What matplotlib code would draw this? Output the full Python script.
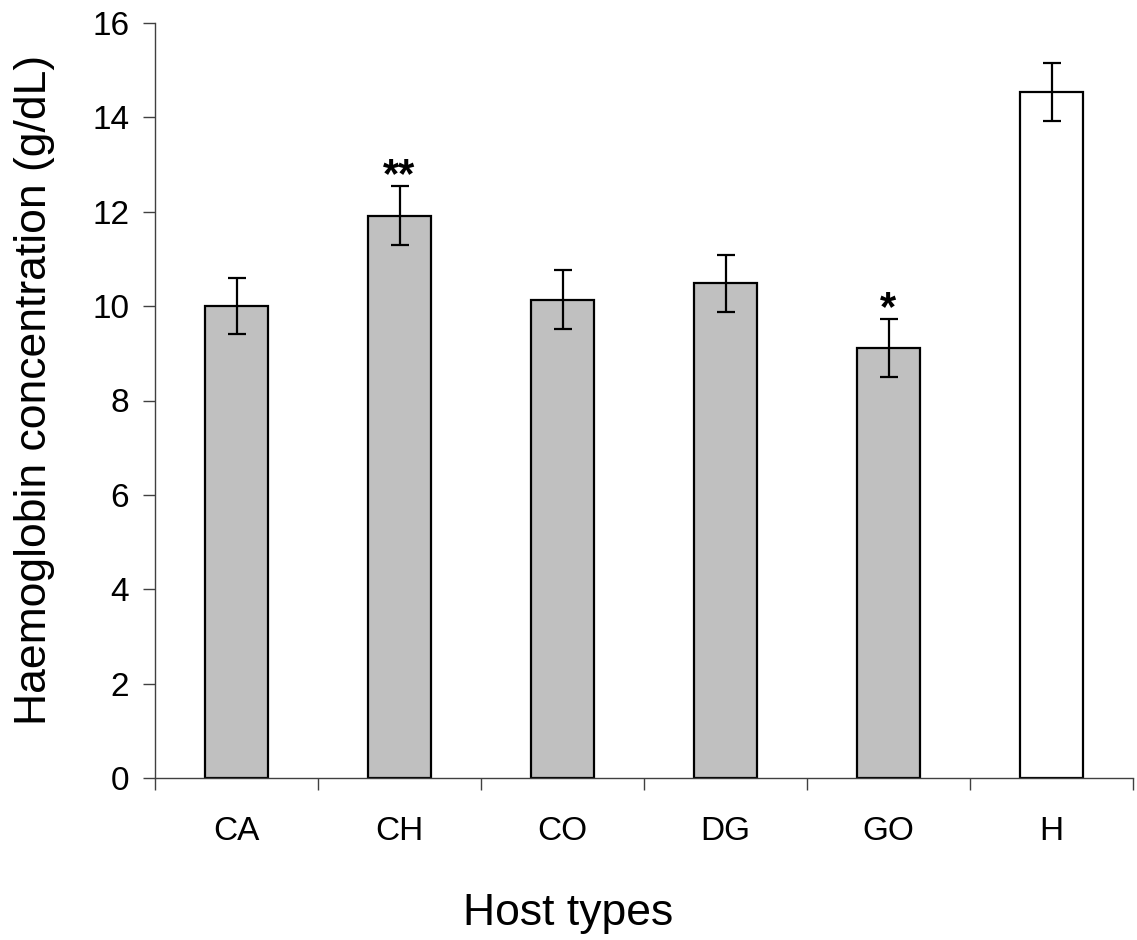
import numpy as np
import matplotlib
matplotlib.use("Agg")
import matplotlib.pyplot as plt

plt.rcParams["font.family"] = ["Liberation Sans", "DejaVu Sans"]

hosts = ["CA", "CH", "CO", "DG", "GO", "H"]
hb_mean = [10.0, 11.92, 10.14, 10.48, 9.11, 14.54]
hb_err = [0.6, 0.62, 0.62, 0.6, 0.61, 0.61]
bar_colors = ["#c0c0c0", "#c0c0c0", "#c0c0c0", "#c0c0c0", "#c0c0c0", "#ffffff"]
signif = ["", "**", "", "", "*", ""]

fig = plt.figure(figsize=(11.37, 9.40), dpi=100)
ax = fig.add_axes([155 / 1137, 1 - 778 / 940, (1133 - 155) / 1137, (778 - 23) / 940])

x = np.arange(len(hosts)) + 0.5
ax.bar(x, hb_mean, width=0.39, color=bar_colors, edgecolor="black", linewidth=1.6, zorder=2)
ax.errorbar(x, hb_mean, yerr=hb_err, fmt="none", ecolor="black", elinewidth=1.6,
            capsize=6.5, capthick=1.6, zorder=3)
for xi, m, e, s in zip(x, hb_mean, hb_err, signif):
    if s:
        ax.annotate(s, (xi, m + e), xytext=(0, -7), textcoords="offset points",
                    ha="center", va="bottom", fontsize=30, fontweight="bold")

ax.set_xlim(0, len(hosts))
ax.set_ylim(0, 16)
ax.set_yticks(np.arange(0, 17, 2))
ax.set_xticks(np.arange(0, len(hosts) + 1))
ax.set_xticklabels([])
ax.set_xticks(x, minor=True)
ax.set_xticklabels(hosts, minor=True)
ax.tick_params(axis="x", which="minor", length=0, pad=27, labelsize=24)
ax.tick_params(axis="x", which="major", length=8.6, width=1, color="#404040")
ax.tick_params(axis="y", length=8.6, width=1, color="#404040", pad=10, labelsize=24)

for side in ("top", "right"):
    ax.spines[side].set_visible(False)
for side in ("left", "bottom"):
    ax.spines[side].set_color("#404040")
    ax.spines[side].set_linewidth(1)

fig.text(35 / 1137, 1 - 390 / 940, "Haemoglobin concentration (g/dL)", rotation=90,
         ha="center", va="center", fontsize=32)
fig.text(0.5, 1 - 913 / 940, "Host types", ha="center", va="center", fontsize=32)

fig.savefig("out.png", dpi=100)
